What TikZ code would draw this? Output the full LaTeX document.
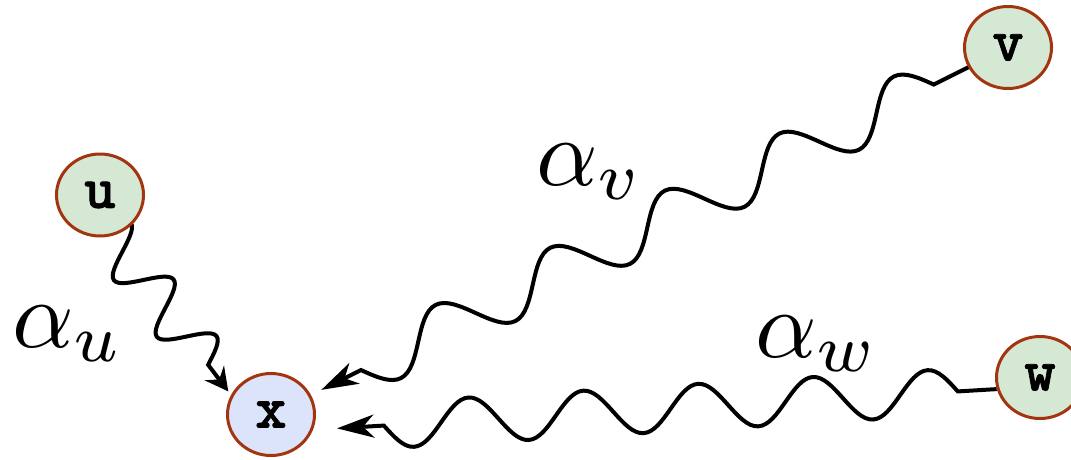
\documentclass[tikz,border=0pt]{standalone}
\usepackage{graphicx}
\usepackage{fontspec}
\newfontfamily\nodefont{lmmonolt10-bold.otf}[FakeBold=1.2]
\usetikzlibrary{arrows.meta,shapes.geometric,decorations,backgrounds,calc}
\pgfdeclaredecoration{wavy}{up}{
  \state{up}[width=+.5\pgfdecorationsegmentlength, next state=down,
             switch if less than=+.5\pgfdecorationsegmentlength to final]{
    \pgfpathsine{\pgfqpoint{.25\pgfdecorationsegmentlength}{\pgfdecorationsegmentamplitude}}
    \pgfpathcosine{\pgfqpoint{.25\pgfdecorationsegmentlength}{-\pgfdecorationsegmentamplitude}}
  }
  \state{down}[width=+.5\pgfdecorationsegmentlength, next state=up,
             switch if less than=+.5\pgfdecorationsegmentlength to final]{
    \pgfpathsine{\pgfqpoint{.25\pgfdecorationsegmentlength}{-\pgfdecorationsegmentamplitude}}
    \pgfpathcosine{\pgfqpoint{.25\pgfdecorationsegmentlength}{\pgfdecorationsegmentamplitude}}
  }
  \state{final}{\pgfpathlineto{\pgfpointdecoratedpathlast}}
}
\definecolor{nodeborder}{RGB}{163,52,16}
\definecolor{greenfill}{RGB}{213,232,212}
\definecolor{bluefill}{RGB}{220,228,251}
\tikzset{
  varnode/.style={ellipse, draw=nodeborder, line width=3pt, minimum width=87pt,
    minimum height=82pt, inner sep=0pt,
    font=\fontsize{60}{60}\selectfont\nodefont},
  wavearrow/.style={line width=4pt, decorate, decoration={wavy}},
  bigtip/.style={-{Stealth[length=37pt,width=23pt,inset=11pt]}},
  smalltip/.style={-{Stealth[length=23pt,width=24pt,inset=8pt]}},
  weight/.style={inner sep=0pt, anchor=base west}
}
\newcommand{\wlabel}[1]{\scalebox{9.6}{$#1$}}
\begin{document}
\begin{tikzpicture}[x=1pt,y=1pt]
\useasboundingbox (0,0) rectangle (1071,-459);
\node[varnode, fill=greenfill] (u) at (100,-195) {u};
\node[varnode, fill=greenfill] (v) at (1008,-47.5) {v};
\node[varnode, fill=greenfill] (w) at (1040,-377.5) {w};
\node[varnode, fill=bluefill] (x) at (271,-414.5) {x};
\node[weight] (lu) at (12,-347) {\wlabel{\alpha_u}};
\node[weight] (lv) at (536,-185) {\wlabel{\alpha_v}};
\node[weight] (lw) at (755,-357) {\wlabel{\alpha_w}};
\begin{scope}[on background layer]
\draw[wavearrow, smalltip, shorten >=4.5pt,
  decoration={amplitude=-24pt, segment length=71pt, pre length=0pt, post length=20pt}]
  ([xshift=-20.5pt]u.center) -- (x.154);
\draw[wavearrow, bigtip, shorten >=11.5pt,
  decoration={amplitude=-25pt, segment length=128pt, pre length=83pt, post length=40pt}]
  (v.center) -- (x.26);
\draw[wavearrow, bigtip, shorten >=24pt,
  decoration={amplitude=-23pt, segment length=115pt, pre length=39pt, post length=60pt}]
  (w.195) -- (x.-20);
\end{scope}
\end{tikzpicture}
\end{document}
